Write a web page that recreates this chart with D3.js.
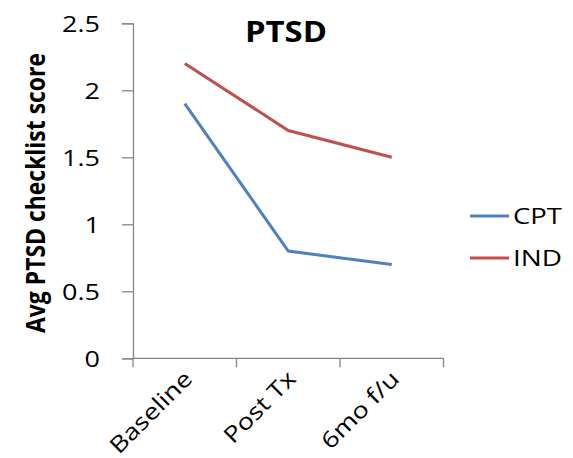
<!DOCTYPE html>
<html><head><meta charset="utf-8">
<script src="https://cdn.jsdelivr.net/npm/d3@7"></script>
<style>body{margin:0;background:#fff;} text{font-family:"Open Sans",sans-serif;}</style>
</head><body><svg id="c" width="573" height="458"></svg>
<script>
const categories = ["Baseline", "Post Tx", "6mo f/u"];
const seriesNames = ["CPT", "IND"];
const cptValues = [1.9, 0.8, 0.7];
const indValues = [2.2, 1.7, 1.5];
const yTicks = [0, 0.5, 1, 1.5, 2, 2.5];
const colors = ["#4F81BD", "#C0504D"];
const series = [cptValues, indValues];

const svg = d3.select("#c");
const x0 = 133, x1 = 443.5, yTop = 23.3, yBot = 358.3;
const x = d3.scaleBand().domain(categories).range([x0, x1]);
const y = d3.scaleLinear().domain([0, 2.5]).range([yBot, yTop]);
const axisColor = "#868686";
const stretch = (sel, f) => sel.each(function () {
  this.setAttribute("textLength", this.getComputedTextLength() * f);
  this.setAttribute("lengthAdjust", "spacingAndGlyphs");
});

// Y axis
const ya = svg.append("g").attr("transform", `translate(${x0},0)`)
  .call(d3.axisLeft(y).tickValues(yTicks).tickSize(11).tickPadding(22).tickFormat(d => String(d)));
ya.select(".domain").attr("stroke", axisColor).attr("stroke-width", 1.3);
ya.selectAll(".tick line").attr("stroke", axisColor).attr("stroke-width", 1.3);
ya.selectAll(".tick text").attr("font-size", 22.5).attr("fill", "#000").attr("font-family", "Open Sans").attr("dy", "0.36em");
stretch(ya.selectAll(".tick text"), 1.2);

// X axis
const xa = svg.append("g").attr("transform", `translate(0,${yBot})`);
xa.append("line").attr("x1", x0).attr("x2", x1).attr("stroke", axisColor).attr("stroke-width", 1.3);
const bounds = categories.map(c => x(c)).concat([x1]);
xa.selectAll("line.tk").data(bounds).enter().append("line").attr("class", "tk")
  .attr("x1", d => d).attr("x2", d => d).attr("y1", 0).attr("y2", 9)
  .attr("stroke", axisColor).attr("stroke-width", 1.3);
const xl = xa.selectAll("text.lbl").data(categories).enter().append("text").attr("class", "lbl")
  .attr("transform", d => `translate(${x(d) + x.bandwidth() / 2 + 9},${22}) rotate(-45)`)
  .attr("text-anchor", "end").attr("font-size", 22.5).attr("fill", "#000")
  .text(d => d);
stretch(xl, 1.2);

// Lines
const line = d3.line().x((d, i) => x(categories[i]) + x.bandwidth() / 2).y(d => y(d));
series.forEach((s, i) => {
  svg.append("path").datum(s).attr("d", line).attr("fill", "none")
    .attr("stroke", colors[i]).attr("stroke-width", 3);
});

// Title
const t = svg.append("text").attr("x", 286).attr("y", 42).attr("text-anchor", "middle")
  .attr("font-size", 28).attr("font-weight", "bold").attr("fill", "#000").text("PTSD");
t.attr("textLength", 82).attr("lengthAdjust", "spacingAndGlyphs");

// Y title
svg.append("text").attr("transform", `translate(45,193) rotate(-90)`).attr("text-anchor", "middle")
  .attr("font-size", 27).attr("font-weight", "bold").attr("fill", "#000").text("Avg PTSD checklist score")
  .attr("textLength", 280).attr("lengthAdjust", "spacingAndGlyphs");

// Legend
const lg = svg.append("g");
seriesNames.forEach((n, i) => {
  const yy = 216 + i * 42;
  lg.append("line").attr("x1", 470).attr("x2", 509).attr("y1", yy).attr("y2", yy)
    .attr("stroke", colors[i]).attr("stroke-width", 3);
  lg.append("text").attr("x", 513).attr("y", yy + 8).attr("font-size", 22).attr("fill", "#000").text(n)
    .attr("textLength", 49).attr("lengthAdjust", "spacingAndGlyphs");
});
</script></body></html>
